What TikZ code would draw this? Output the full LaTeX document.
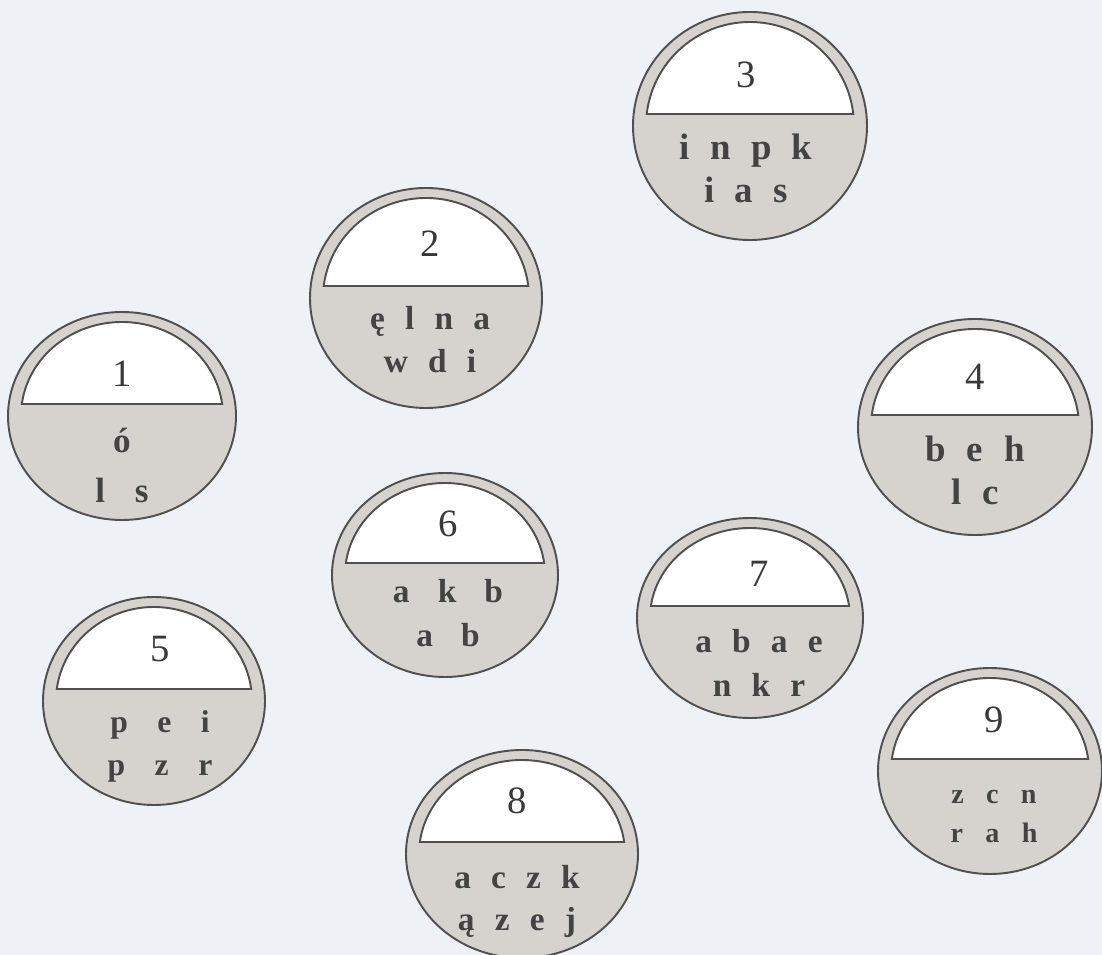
\documentclass[tikz,border=0pt]{standalone}
\usepackage{fontspec}
\setmainfont{Liberation Serif}

\definecolor{paper}{HTML}{EEF1F5}
\definecolor{discgray}{HTML}{D6D3CF}
\definecolor{rim}{HTML}{505050}
\definecolor{ink}{HTML}{434343}

\tikzset{
  rimline/.style={draw=rim, line width=1.1pt},
  numlabel/.style={anchor=base, inner sep=0pt, text=ink!85!black,
    font={\fontsize{22}{24}\selectfont}},
  letrow/.style={anchor=base, inner sep=0pt, text=ink},
}

\begin{document}
\begin{tikzpicture}[x=0.02cm, y=0.02cm]
  \useasboundingbox (0,0) rectangle (1102,-955);
  \fill[paper] (0,0) rectangle (1102,-955);
  % number / cx / cy / rx / ry / font size / gap / dx / digit, row offsets / rows
  \foreach \dn/\dcx/\dcy/\drx/\dry/\dfs/\dgap/\ddx/\dyn/\dya/\dyb/\dra/\drb in {
      1/122/416/114/104/20/17/0/29/37/87/ó/l s,
      2/426/298/116/110/19/11.5/4/41/32/75/ę l n a/w d i,
      3/750/126/117/114/21/11.6/-4/38/34/77/i n p k/i a s,
      4/975/427/117/108/21/12/0/37/35/78/b e h/l c,
      5/154/701/111/104/18/16.8/6/39/31/74/p e i/p z r,
      6/445/575/113/102/19/16/3/38/28/72/a k b/a b,
      7/750/618/113/100/19/11.5/9/31/35/79/a b a e/n k r,
      8/522/854/116/104/19/11.5/-5/41/34/76/a c z k/ą z e j,
      9/990/771/112/103/16/12.7/4/39/32/71/z c n/r a h}
  {
    \pgfmathsetmacro\dirx{\drx-13}
    \pgfmathsetmacro\diry{\dry-10}
    \pgfmathsetmacro\dang{asin(12/\diry)}
    \filldraw[fill=discgray, rimline] (\dcx,-\dcy) ellipse [x radius=\drx, y radius=\dry];
    \filldraw[fill=white, rimline] (\dcx,-\dcy) ++({-\dirx*cos(\dang)},{\diry*sin(\dang)})
      arc[start angle=180-\dang, end angle=\dang, x radius=\dirx, y radius=\diry] -- cycle;
    \node[numlabel] (num\dn) at (\dcx+\ddx,-\dcy+\dyn) {\dn};
    \node[letrow, font={\fontsize{\dfs}{\dfs}\selectfont\bfseries}]
      (upper\dn) at (\dcx+\ddx,-\dcy-\dya) {\spaceskip=\dgap pt\relax\dra};
    \node[letrow, font={\fontsize{\dfs}{\dfs}\selectfont\bfseries}]
      (lower\dn) at (\dcx+\ddx,-\dcy-\dyb) {\spaceskip=\dgap pt\relax\drb};
  }
\end{tikzpicture}
\end{document}
